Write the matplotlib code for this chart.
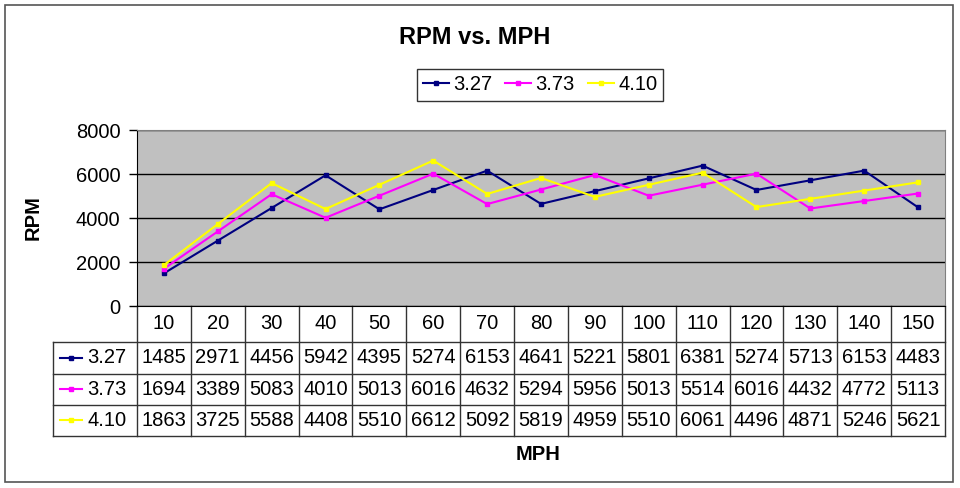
import matplotlib
matplotlib.use('Agg')
import matplotlib.pyplot as plt
from matplotlib.transforms import blended_transform_factory
from matplotlib.lines import Line2D
from matplotlib.patches import Rectangle

plt.rcParams['font.family'] = ['Liberation Sans', 'DejaVu Sans']

mph = [10, 20, 30, 40, 50, 60, 70, 80, 90, 100, 110, 120, 130, 140, 150]
series_names = ['3.27', '3.73', '4.10']
rpm_327 = [1485, 2971, 4456, 5942, 4395, 5274, 6153, 4641, 5221, 5801, 6381, 5274, 5713, 6153, 4483]
rpm_373 = [1694, 3389, 5083, 4010, 5013, 6016, 4632, 5294, 5956, 5013, 5514, 6016, 4432, 4772, 5113]
rpm_410 = [1863, 3725, 5588, 4408, 5510, 6612, 5092, 5819, 4959, 5510, 6061, 4496, 4871, 5246, 5621]
y_ticks = [0, 2000, 4000, 6000, 8000]

all_series = [rpm_327, rpm_373, rpm_410]
colors = ['#000080', '#FF00FF', '#FFFF00']
markers = ['s', 's', 's']

fig = plt.figure(figsize=(9.6, 4.88), dpi=100)
fig.patch.set_facecolor('white')

# outer chart border
fig.add_artist(Rectangle((5 / 960, 1 - 482 / 488), 948 / 960, 477 / 488,
                         transform=fig.transFigure, fill=False, edgecolor='#555555', lw=1.2))

ax = fig.add_axes([137 / 960, 1 - 306 / 488, 808 / 960, 176 / 488])
ax.set_facecolor('#C0C0C0')

x = list(range(len(mph)))
for vals, name, c, m in zip(all_series, series_names, colors, markers):
    ax.plot(x, vals, color=c, lw=1.5, marker=m, markersize=2.5, label=name, zorder=3)

ax.set_xlim(-0.5, len(mph) - 0.5)
ax.set_ylim(0, 8000)
ax.set_yticks(y_ticks)
ax.set_yticklabels([str(t) for t in y_ticks], fontsize=14.5)
ax.tick_params(axis='y', direction='out', length=6, width=1, pad=6)
ax.set_xticks([])
ax.yaxis.grid(True, color='black', lw=1)
ax.set_axisbelow(True)
for s in ['top', 'right']:
    ax.spines[s].set_color('#808080')
for s in ['left', 'bottom']:
    ax.spines[s].set_color('black')

# data table below the plot
tr = blended_transform_factory(ax.transData, ax.transAxes)
px = 808 / len(mph)
label_left = -0.5 - 84 / px
row_edges = [0, -0.2045, -0.386, -0.562, -0.739]
lc = '#333333'
for yy in row_edges[1:]:
    ax.add_line(Line2D([label_left, len(mph) - 0.5], [yy, yy], transform=tr,
                       color=lc, lw=1, clip_on=False))
for k in range(len(mph) + 1):
    ax.add_line(Line2D([k - 0.5, k - 0.5], [0, row_edges[-1]], transform=tr,
                       color=lc, lw=1, clip_on=False))
ax.add_line(Line2D([label_left, label_left], [row_edges[1], row_edges[-1]], transform=tr,
                   color=lc, lw=1, clip_on=False))

hy = (row_edges[0] + row_edges[1]) / 2
for i, v in enumerate(mph):
    ax.text(i, hy, str(v), transform=tr, ha='center', va='center', fontsize=14.5)

for r, (vals, name, c, m) in enumerate(zip(all_series, series_names, colors, markers)):
    cy = (row_edges[r + 1] + row_edges[r + 2]) / 2
    for i, v in enumerate(vals):
        ax.text(i, cy, str(v), transform=tr, ha='center', va='center', fontsize=14.5)
    lx0 = -0.5 + (60 - 137) / px
    lx1 = -0.5 + (82 - 137) / px
    ax.add_line(Line2D([lx0, lx1], [cy, cy], transform=tr, color=c, lw=1.5,
                       clip_on=False))
    ax.add_line(Line2D([(lx0 + lx1) / 2], [cy], transform=tr, color=c, marker=m,
                       markersize=2.5, clip_on=False))
    ax.text(-0.5 + (87 - 137) / px, cy, name, transform=tr, ha='left', va='center',
            fontsize=14.5)

fig.text(475 / 960, 1 - 37 / 488, 'RPM vs. MPH', ha='center', va='center',
         fontsize=17, fontweight='bold')
fig.text(33 / 960, 1 - 218 / 488, 'RPM', ha='center', va='center', rotation=90,
         fontsize=14.5, fontweight='bold')
fig.text(538 / 960, 1 - 455 / 488, 'MPH', ha='center', va='center',
         fontsize=14.5, fontweight='bold')

leg = fig.legend(loc='center', bbox_to_anchor=(540 / 960, 1 - 85 / 488), ncol=3,
                 fontsize=14.5, frameon=True, fancybox=False, edgecolor='black',
                 handlelength=1.3, handletextpad=0.2, columnspacing=0.65,
                 borderpad=0.3, borderaxespad=0)
leg.get_frame().set_linewidth(1)

fig.savefig('out.png', dpi=100)
